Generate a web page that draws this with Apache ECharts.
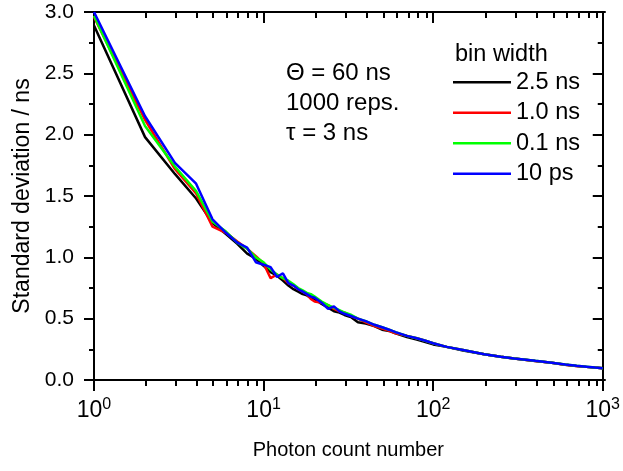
<!DOCTYPE html>
<html>
<head>
<meta charset="utf-8">
<script src="https://cdn.jsdelivr.net/npm/echarts@6/dist/echarts.min.js"></script>
<style>
  html, body { margin: 0; padding: 0; background: #fff; }
  #chart { width: 623px; height: 471px; }
</style>
</head>
<body>
<div id="chart"></div>
<script>
const counts = [1, 2, 3, 4, 5, 6, 7, 8, 9, 10, 11, 12, 13, 14, 15, 16, 17, 18, 19, 20,
  22, 24, 26, 28, 30, 33, 36, 40, 45, 50, 55, 60, 70, 80, 90, 100, 120, 150, 200, 250,
  300, 400, 500, 600, 700, 800, 900, 1000];

const sd25ns = [2.89, 1.98, 1.68, 1.48, 1.28, 1.19, 1.11, 1.03, 0.99, 0.93, 0.88, 0.85, 0.81, 0.77, 0.74, 0.72, 0.70, 0.69, 0.67, 0.66,
  0.62, 0.59, 0.56, 0.55, 0.53, 0.51, 0.47, 0.46, 0.44, 0.41, 0.40, 0.38, 0.35, 0.33, 0.31, 0.29, 0.27, 0.24, 0.21, 0.19,
  0.175, 0.155, 0.14, 0.125, 0.115, 0.107, 0.101, 0.095];
const sd10ns = [2.96, 2.12, 1.72, 1.52, 1.25, 1.20, 1.13, 1.07, 1.01, 0.95, 0.83, 0.86, 0.83, 0.79, 0.77, 0.74, 0.72, 0.70, 0.66, 0.64,
  0.63, 0.61, 0.58, 0.56, 0.55, 0.52, 0.50, 0.47, 0.44, 0.42, 0.40, 0.38, 0.36, 0.34, 0.32, 0.30, 0.27, 0.245, 0.21, 0.19,
  0.175, 0.155, 0.14, 0.125, 0.115, 0.107, 0.101, 0.095];
const sd01ns = [2.97, 2.07, 1.74, 1.54, 1.29, 1.21, 1.12, 1.07, 1.00, 0.96, 0.90, 0.86, 0.83, 0.81, 0.78, 0.75, 0.73, 0.71, 0.70, 0.68,
  0.64, 0.61, 0.59, 0.57, 0.55, 0.53, 0.50, 0.48, 0.45, 0.43, 0.41, 0.39, 0.36, 0.34, 0.32, 0.30, 0.27, 0.245, 0.21, 0.19,
  0.176, 0.156, 0.141, 0.126, 0.116, 0.108, 0.101, 0.095];
const sd10ps = [3.00, 2.15, 1.77, 1.60, 1.31, 1.20, 1.12, 1.08, 0.96, 0.94, 0.92, 0.84, 0.87, 0.79, 0.77, 0.74, 0.72, 0.70, 0.68, 0.67,
  0.63, 0.58, 0.60, 0.56, 0.54, 0.52, 0.50, 0.48, 0.45, 0.43, 0.41, 0.39, 0.36, 0.34, 0.32, 0.30, 0.27, 0.245, 0.21, 0.19,
  0.176, 0.156, 0.141, 0.126, 0.116, 0.108, 0.101, 0.096];

const seriesNames = ['2.5 ns', '1.0 ns', '0.1 ns', '10 ps'];
const seriesColors = ['#000000', '#ff0000', '#00ff00', '#0000ff'];
const xMinor = [2, 3, 4, 5, 6, 7, 8, 9, 20, 30, 40, 50, 60, 70, 80, 90, 200, 300, 400, 500, 600, 700, 800, 900];

const FONT = '"Liberation Sans", Arial, sans-serif';
const AXIS_W = 2;
const GRID = { left: 94, right: 18, top: 12, bottom: 91 };
const chart = echarts.init(document.getElementById('chart'));

const pair = (ys) => counts.map((c, i) => [c, ys[i]]);
const allValues = [sd25ns, sd10ns, sd01ns, sd10ps];

// minor ticks of the log axis live on a second, identical grid
const tickAxis = (position, inside, len, ticks, gridIndex) => ({
  type: 'log',
  logBase: 10,
  min: 1,
  max: 1000,
  gridIndex: gridIndex,
  position: position,
  axisLine: { show: true, onZero: false, lineStyle: { color: '#000', width: AXIS_W } },
  axisTick: { show: true, inside: inside, length: len, customValues: ticks, lineStyle: { color: '#000', width: AXIS_W } },
  axisLabel: { show: false },
  splitLine: { show: false }
});

const option = {
  animation: false,
  backgroundColor: '#fff',
  grid: [Object.assign({}, GRID), Object.assign({}, GRID)],
  legend: {
    orient: 'vertical',
    left: 453,
    top: 67,
    padding: 0,
    icon: 'rect',
    itemWidth: 58,
    itemHeight: 2.5,
    itemGap: 0,
    data: seriesNames,
    textStyle: { fontFamily: FONT, fontSize: 23.5, color: '#000', lineHeight: 30.5 }
  },
  graphic: [
    { type: 'text', left: 455, top: 43, style: { text: 'bin width', font: '23.5px ' + FONT, fill: '#000' } },
    { type: 'text', left: 286, top: 58, style: { text: 'Θ = 60 ns\n1000 reps.\nτ = 3 ns', font: '24px ' + FONT, fill: '#000', lineHeight: 30 } }
  ],
  xAxis: [
    {
      type: 'log',
      logBase: 10,
      min: 1,
      max: 1000,
      gridIndex: 0,
      position: 'bottom',
      name: 'Photon count number',
      nameLocation: 'middle',
      nameGap: 60,
      nameTextStyle: { fontFamily: FONT, fontSize: 20, color: '#000' },
      axisLine: { show: true, onZero: false, lineStyle: { color: '#000', width: AXIS_W } },
      axisTick: { show: true, inside: false, length: 11, lineStyle: { color: '#000', width: AXIS_W } },
      axisLabel: {
        show: true,
        margin: 17,
        formatter: (v) => '{b|10}{s|' + Math.round(Math.log10(v)) + '}',
        rich: {
          b: { fontFamily: FONT, fontSize: 23, color: '#000' },
          s: { fontFamily: FONT, fontSize: 16, color: '#000', verticalAlign: 'top', padding: [0, 0, 11, 0] }
        }
      },
      splitLine: { show: false }
    },
    {
      type: 'log',
      logBase: 10,
      min: 1,
      max: 1000,
      gridIndex: 0,
      position: 'top',
      axisLine: { show: true, onZero: false, lineStyle: { color: '#000', width: AXIS_W } },
      axisTick: { show: true, inside: true, length: 11, lineStyle: { color: '#000', width: AXIS_W } },
      axisLabel: { show: false },
      splitLine: { show: false }
    },
    tickAxis('bottom', false, 6, xMinor, 1),
    tickAxis('top', true, 6, xMinor, 1)
  ],
  yAxis: [
    {
      type: 'value',
      min: 0,
      max: 3,
      interval: 0.5,
      gridIndex: 0,
      position: 'left',
      name: 'Standard deviation / ns',
      nameLocation: 'middle',
      nameGap: 60,
      nameTextStyle: { fontFamily: FONT, fontSize: 23, color: '#000' },
      axisLine: { show: true, lineStyle: { color: '#000', width: AXIS_W } },
      axisTick: { show: true, inside: false, length: 10, lineStyle: { color: '#000', width: AXIS_W } },
      minorTick: { show: true, splitNumber: 2, length: 5, lineStyle: { color: '#000', width: AXIS_W } },
      axisLabel: { fontFamily: FONT, fontSize: 21, color: '#000', margin: 20, formatter: (v) => v.toFixed(1) },
      splitLine: { show: false }
    },
    {
      type: 'value',
      min: 0,
      max: 3,
      interval: 0.5,
      gridIndex: 0,
      position: 'right',
      axisLine: { show: true, lineStyle: { color: '#000', width: AXIS_W } },
      axisTick: { show: true, inside: true, length: 10, lineStyle: { color: '#000', width: AXIS_W } },
      minorTick: { show: true, splitNumber: 2, length: 5, lineStyle: { color: '#000', width: AXIS_W } },
      axisLabel: { show: false },
      splitLine: { show: false }
    },
    { type: 'value', min: 0, max: 3, gridIndex: 1, show: false }
  ],
  series: seriesNames.map((name, i) => ({
    name: name,
    type: 'line',
    xAxisIndex: 0,
    yAxisIndex: 0,
    data: pair(allValues[i]),
    symbol: 'none',
    showSymbol: false,
    lineStyle: { color: seriesColors[i], width: 2.5 },
    itemStyle: { color: seriesColors[i] },
    z: 2 + i
  }))
};

chart.setOption(option);
</script>
</body>
</html>
